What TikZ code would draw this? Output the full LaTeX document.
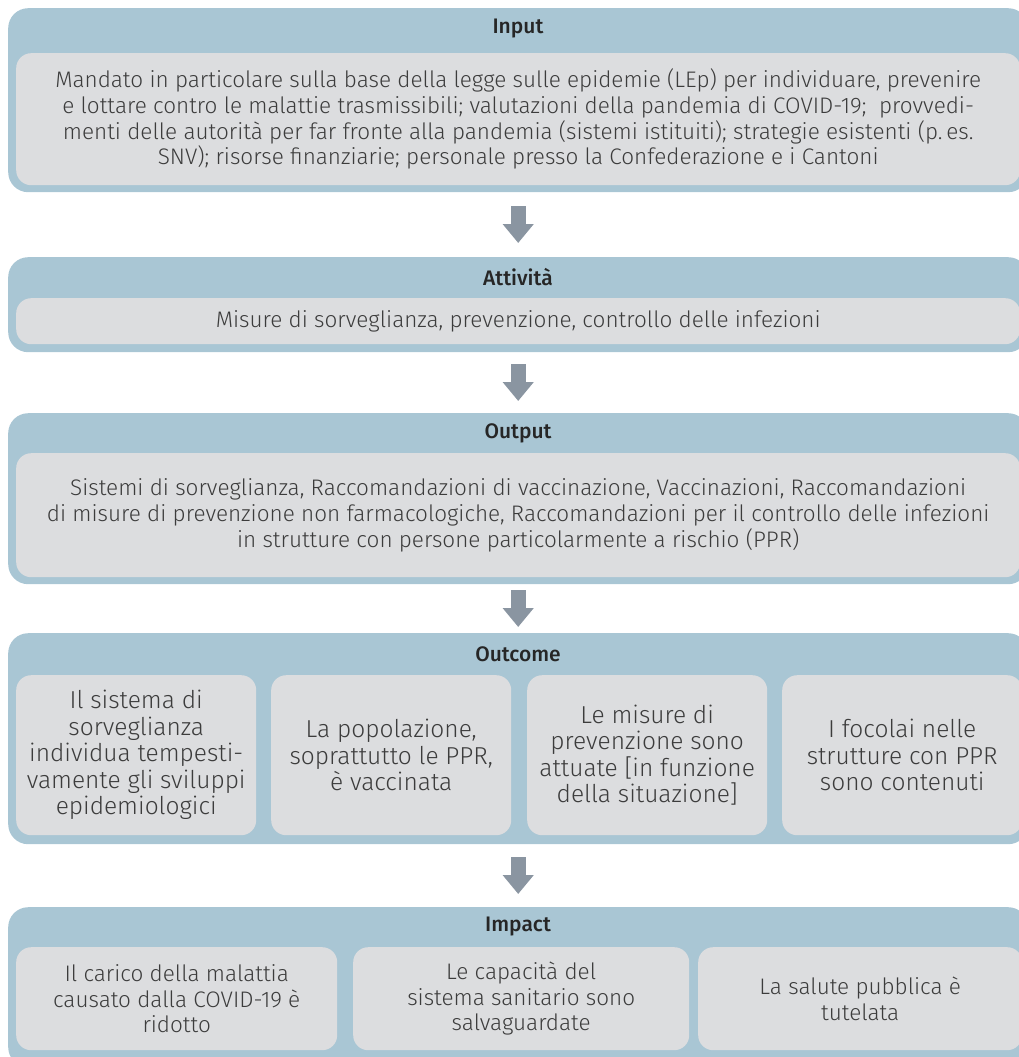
\documentclass[tikz,border=0pt]{standalone}
\usepackage{fontspec}
\setmainfont{Fira Sans}[UprightFont={* Light},BoldFont={* Medium}]
\usetikzlibrary{arrows.meta}
\definecolor{outerblue}{HTML}{A9C6D4}
\definecolor{innergray}{HTML}{DCDDDF}
\definecolor{arrgray}{HTML}{8A95A1}
\definecolor{txtgray}{HTML}{3C3C3C}
\definecolor{titlegray}{HTML}{262626}

\begin{document}
\begin{tikzpicture}[x=1pt,y=-1pt,
  outer/.style={fill=outerblue,rounded corners=20pt,anchor=north west,inner sep=0pt},
  inner/.style={fill=innergray,rounded corners=15pt,anchor=north west,inner sep=0pt,
    align=center,text=txtgray,font=\fontsize{22.5}{25.7}\selectfont},
  big/.style={font=\fontsize{24.5}{26.5}\selectfont},
  title/.style={font=\fontsize{21}{24}\selectfont\bfseries,text=titlegray},
  bigarr/.style={draw=arrgray,line width=15pt,-{Triangle[width=30pt,length=19pt]}}]
\useasboundingbox (0,0) rectangle (1018,1057);

% Input
\node[outer,minimum width=1020pt,minimum height=184pt] (input) at (8,8) {};
\node[title] (inputtitle) at (518,29) {Input};
\node[inner,minimum width=1004pt,minimum height=132pt] (inputtxt) at (16,53)
  {Mandato in particolare sulla base della legge sulle epidemie (LEp) per individuare, prevenire\\
   e lottare contro le malattie trasmissibili; valutazioni della pandemia di COVID-19;\ \ provvedi-\\
   menti delle autorità per far fronte alla pandemia (sistemi istituiti); strategie esistenti (p.\,es.\\
   SNV); risorse finanziarie; personale presso la Confederazione e i Cantoni};

% Attivita
\node[outer,minimum width=1020pt,minimum height=95pt] (att) at (8,257) {};
\node[title] (atttitle) at (518,277) {Attività};
\node[inner,minimum width=1004pt,minimum height=46pt] (atttxt) at (16,298)
  {Misure di sorveglianza, prevenzione, controllo delle infezioni};

% Output
\node[outer,minimum width=1020pt,minimum height=171pt] (out) at (8,413) {};
\node[title] (outtitle) at (518,433) {Output};
\node[inner,minimum width=1004pt,minimum height=124pt] (outtxt) at (16,453)
  {Sistemi di sorveglianza, Raccomandazioni di vaccinazione, Vaccinazioni, Raccomandazioni\\
   di misure di prevenzione non farmacologiche, Raccomandazioni per il controllo delle infezioni\\
   in strutture con persone particolarmente a rischio (PPR)};

% Outcome
\node[outer,minimum width=1020pt,minimum height=211pt] (outc) at (8,633) {};
\node[title] (outctitle) at (518,654) {Outcome};
\node[inner,big,minimum width=240pt,minimum height=160pt] (outc1) at (16,675)
  {Il sistema di\\sorveglianza\\individua tempesti-\\vamente gli sviluppi\\epidemiologici};
\node[inner,big,minimum width=240pt,minimum height=160pt] (outc2) at (271,675)
  {La popolazione,\\soprattutto le PPR,\\è vaccinata};
\node[inner,big,minimum width=240pt,minimum height=160pt] (outc3) at (527,675)
  {Le misure di\\prevenzione sono\\attuate [in funzione\\della situazione]};
\node[inner,big,minimum width=240pt,minimum height=160pt] (outc4) at (782,675)
  {I focolai nelle\\strutture con PPR\\sono contenuti};

% Impact
\node[outer,minimum width=1020pt,minimum height=160pt] (imp) at (8,907) {};
\node[title] (imptitle) at (518,927) {Impact};
\node[inner,minimum width=321pt,minimum height=103pt] (imp1) at (16,947)
  {Il carico della malattia\\causato dalla COVID-19 è\\ridotto};
\node[inner,minimum width=336pt,minimum height=103pt] (imp2) at (353,947)
  {Le capacità del\\sistema sanitario sono\\salvaguardate};
\node[inner,minimum width=324pt,minimum height=103pt] (imp3) at (698,947)
  {La salute pubblica è\\tutelata};

% arrows between the levels
\foreach \a/\b/\s in {input/att/14,att/out/12,out/outc/6,outc/imp/13}
  \draw[bigarr,shorten <=\s pt,shorten >=\s pt] (\a.south) -- (\b.north);
\end{tikzpicture}
\end{document}
